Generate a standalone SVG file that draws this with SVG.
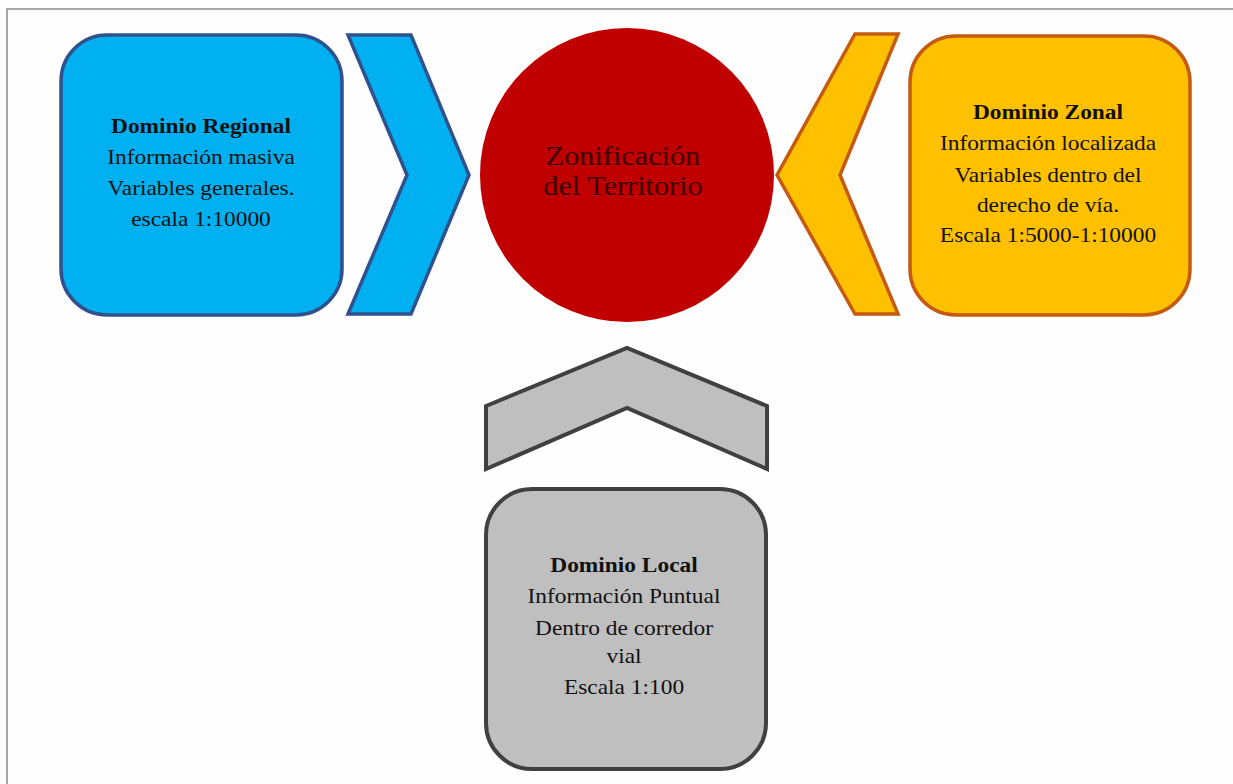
<svg xmlns="http://www.w3.org/2000/svg" width="1233" height="784" viewBox="0 0 1233 784">
<style>
.t{font-family:"Liberation Serif","Times New Roman",serif;font-size:20px;fill:#111;text-anchor:middle}
.b{font-weight:bold}
.c{font-family:"Liberation Serif","Times New Roman",serif;font-size:27px;fill:#3c0000;text-anchor:middle}
.blue{fill:#00b0f0;stroke:#2f528f;stroke-width:3.5}
.orange{fill:#ffc000;stroke:#c55a11;stroke-width:3.5}
.gray{fill:#bfbfbf;stroke:#404040;stroke-width:4}
</style>
<rect width="1233" height="784" fill="#fefefe"/>
<path d="M7,784 V9 H1233" fill="none" stroke="#a8a8a8" stroke-width="2"/>
<g id="regional">
<rect class="blue" x="61" y="35" width="281" height="280" rx="46"/>
<g transform="translate(201,0) scale(1.17,1)">
<text class="t b" x="0" y="133">Dominio Regional</text>
<text class="t" x="0" y="164">Información masiva</text>
<text class="t" x="0" y="195">Variables generales.</text>
<text class="t" x="0" y="226">escala 1:10000</text>
</g>
</g>
<g id="center">
<circle cx="627" cy="175" r="147" fill="#c00000"/>
<g transform="translate(623,0) scale(1.12,1)">
<text class="c" x="0" y="165">Zonificación</text>
<text class="c" x="0" y="195">del Territorio</text>
</g>
</g>
<g id="zonal">
<rect class="orange" x="910" y="36" width="280" height="279" rx="46"/>
<g transform="translate(1048,0) scale(1.17,1)">
<text class="t b" x="0" y="119">Dominio Zonal</text>
<text class="t" x="0" y="150">Información localizada</text>
<text class="t" x="0" y="182">Variables dentro del</text>
<text class="t" x="0" y="212">derecho de vía.</text>
<text class="t" x="0" y="242">Escala 1:5000-1:10000</text>
</g>
</g>
<g id="local">
<rect class="gray" x="486" y="489" width="280" height="280" rx="46"/>
<g transform="translate(624,0) scale(1.17,1)">
<text class="t b" x="0" y="572">Dominio Local</text>
<text class="t" x="0" y="603">Información Puntual</text>
<text class="t" x="0" y="635">Dentro de corredor</text>
<text class="t" x="0" y="663">vial</text>
<text class="t" x="0" y="694">Escala 1:100</text>
</g>
</g>
<g id="connectors">
<polygon class="blue" points="348,35 411,35 469,175 411,314 348,314 407,175"/>
<polygon class="orange" points="898,34 855,34 777,175 855,314 898,314 840,175"/>
<polygon class="gray" points="486,406 627,348 767,406 767,469 627,408 486,469"/>
</g>
</svg>
